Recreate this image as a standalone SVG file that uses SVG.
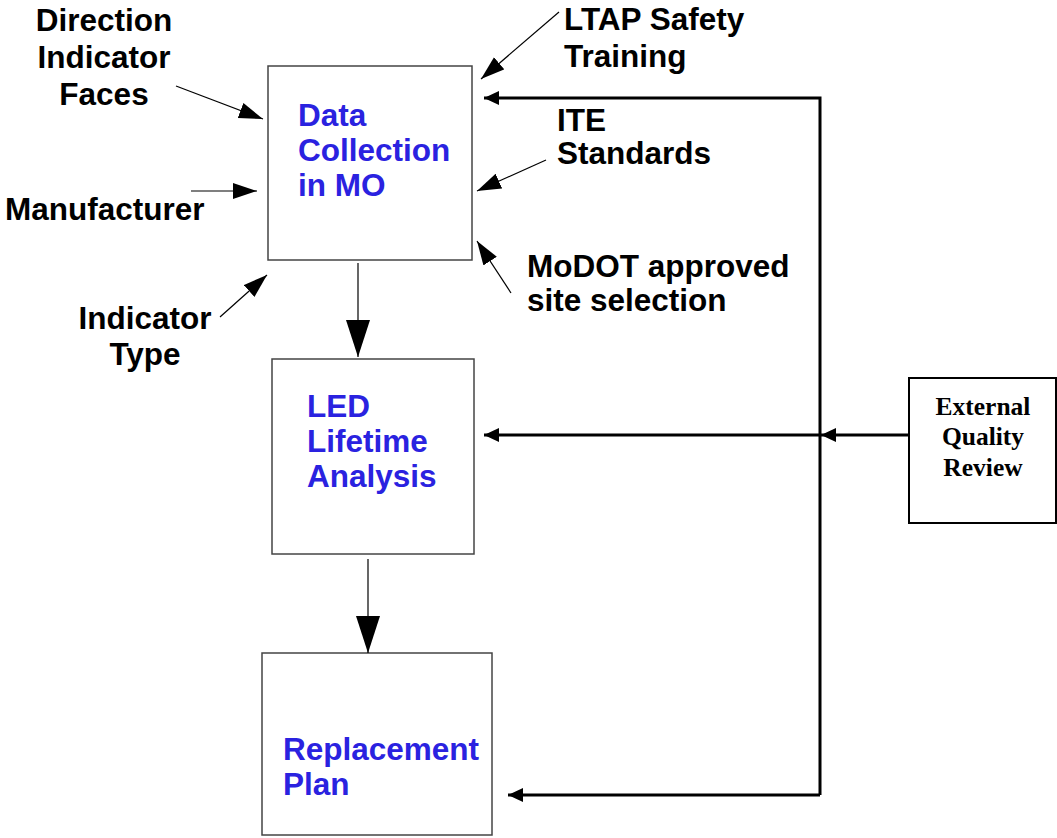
<svg xmlns="http://www.w3.org/2000/svg" width="1057" height="838" viewBox="0 0 1057 838">
<style>
.lbl{font-family:"Liberation Sans",Arial,sans-serif;font-weight:bold;font-size:31.5px;fill:#000}
.blue{font-family:"Liberation Sans",Arial,sans-serif;font-weight:bold;font-size:31.5px;fill:#2a22e0}
.eqr{font-family:"Liberation Serif","Times New Roman",serif;font-weight:bold;font-size:25.5px;fill:#000;text-anchor:middle}
.box{fill:#fff;stroke:#444;stroke-width:1.5}
.thin{stroke:#000;stroke-width:1.2;fill:none}
.thick{stroke:#000;stroke-width:3;fill:none}
</style>
<defs>
<marker id="ah" markerUnits="userSpaceOnUse" markerWidth="26" markerHeight="18" refX="24" refY="8" orient="auto"><path d="M0,0 L24,8 L0,16 Z" fill="#000"/></marker>
<marker id="big" markerUnits="userSpaceOnUse" markerWidth="38" markerHeight="26" refX="37" refY="12" orient="auto"><path d="M0,0 L37,12 L0,24 Z" fill="#000"/></marker>
<marker id="fb" markerUnits="userSpaceOnUse" markerWidth="16" markerHeight="16" refX="15" refY="7" orient="auto"><path d="M0,0 L15,7 L0,14 Z" fill="#000"/></marker>
</defs>
<rect width="1057" height="838" fill="#fff"/>
<g id="data-collection">
<rect class="box" x="268" y="66" width="204" height="194"/>
<text class="blue" x="298" y="126">Data</text>
<text class="blue" x="298" y="161">Collection</text>
<text class="blue" x="298" y="196">in MO</text>
</g>
<g id="led-analysis">
<rect class="box" x="272" y="359" width="202" height="195"/>
<text class="blue" x="307" y="417">LED</text>
<text class="blue" x="307" y="452">Lifetime</text>
<text class="blue" x="307" y="487">Analysis</text>
</g>
<g id="replacement-plan">
<rect class="box" x="262" y="653" width="230" height="182"/>
<text class="blue" x="283" y="760">Replacement</text>
<text class="blue" x="283" y="795">Plan</text>
</g>
<g id="external-review">
<rect x="909" y="378" width="147" height="145" fill="#fff" stroke="#000" stroke-width="2"/>
<text class="eqr" x="983" y="415">External</text>
<text class="eqr" x="983" y="445">Quality</text>
<text class="eqr" x="983" y="476">Review</text>
</g>
<g id="input-direction"><text class="lbl" text-anchor="middle" x="104" y="31">Direction</text><text class="lbl" text-anchor="middle" x="104" y="68">Indicator</text><text class="lbl" text-anchor="middle" x="104" y="105">Faces</text></g>
<g id="input-manufacturer"><text class="lbl" x="5" y="220">Manufacturer</text></g>
<g id="input-type"><text class="lbl" text-anchor="middle" x="145" y="329">Indicator</text><text class="lbl" text-anchor="middle" x="145" y="365">Type</text></g>
<g id="input-ltap"><text class="lbl" x="564" y="30">LTAP Safety</text><text class="lbl" x="564" y="67">Training</text></g>
<g id="input-ite"><text class="lbl" x="557" y="131">ITE</text><text class="lbl" x="557" y="164">Standards</text></g>
<g id="input-modot"><text class="lbl" x="527" y="277">MoDOT approved</text><text class="lbl" x="527" y="311">site selection</text></g>
<g id="connectors">
<line class="thin" x1="176" y1="86" x2="263" y2="119" marker-end="url(#ah)"/>
<line class="thin" x1="191" y1="191" x2="257" y2="191" marker-end="url(#ah)"/>
<line class="thin" x1="220" y1="317" x2="267" y2="275" marker-end="url(#ah)"/>
<line class="thin" x1="559" y1="12" x2="481" y2="79" marker-end="url(#ah)"/>
<line class="thin" x1="546" y1="160" x2="477" y2="191" marker-end="url(#ah)"/>
<line class="thin" x1="511" y1="293" x2="477" y2="241" marker-end="url(#ah)"/>
<line class="thin" x1="358" y1="263" x2="358" y2="357" marker-end="url(#big)"/>
<line class="thin" x1="368" y1="559" x2="368" y2="653" marker-end="url(#big)"/>
<polyline class="thick" points="820,795 820,98 484,98" marker-end="url(#fb)"/>
<line class="thick" x1="820" y1="795" x2="508" y2="795" marker-end="url(#fb)"/>
<line class="thick" x1="909" y1="435" x2="821" y2="435" marker-end="url(#fb)"/>
<line class="thick" x1="820" y1="435" x2="484" y2="435" marker-end="url(#fb)"/>
</g>
</svg>
